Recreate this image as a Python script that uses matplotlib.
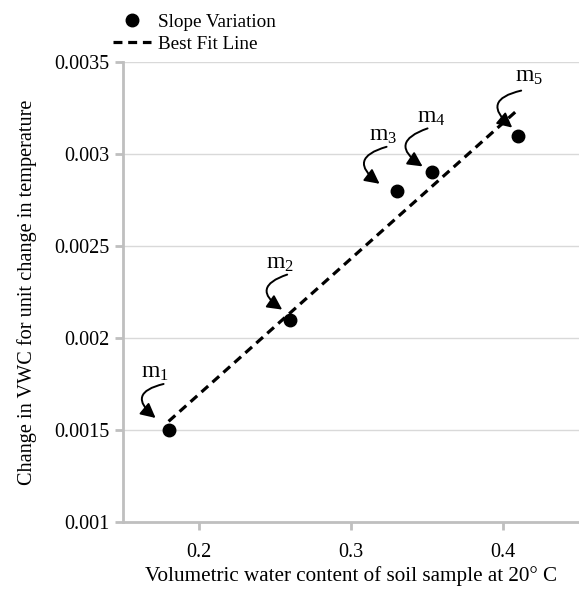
import numpy as np
import matplotlib
matplotlib.use("Agg")
import matplotlib.pyplot as plt
from matplotlib.transforms import offset_copy

# data
vwc = [0.18, 0.26, 0.33, 0.353, 0.41]
slope = [0.0015, 0.0021, 0.0028, 0.0029, 0.0031]
labels = ["1", "2", "3", "4", "5"]
x_ticks = [0.2, 0.3, 0.4]
y_ticks = [0.001, 0.0015, 0.002, 0.0025, 0.003, 0.0035]
y_tick_labels = ["0.001", "0.0015", "0.002", "0.0025", "0.003", "0.0035"]

plt.rcParams["font.family"] = ["Liberation Serif", "DejaVu Serif"]
plt.rcParams["mathtext.fontset"] = "custom"
plt.rcParams["mathtext.rm"] = "Liberation Serif"
plt.rcParams["mathtext.it"] = "Liberation Serif:italic"

fig = plt.figure(figsize=(5.79, 5.90), dpi=100)
ax = fig.add_axes([0.2124, 0.1153, 0.7876, 0.7796])

grey = "#bfbfbf"
ax.set_xlim(0.15, 0.45)
ax.set_ylim(0.001, 0.0035)
ax.set_xticks(x_ticks)
ax.set_xticklabels([str(t) for t in x_ticks])
ax.set_yticks(y_ticks)
ax.set_yticklabels(y_tick_labels)
ax.grid(axis="y", color="#d9d9d9", linewidth=1)
ax.set_axisbelow(True)
for s in ["top", "right"]:
    ax.spines[s].set_visible(False)
for s in ["left", "bottom"]:
    ax.spines[s].set_color(grey)
    ax.spines[s].set_linewidth(2)
ax.tick_params(axis="both", color=grey, width=2, length=6, labelsize=14.5)
ax.tick_params(axis="x", pad=9)
ax.tick_params(axis="y", pad=4)

# best fit line
coef = np.polyfit(vwc, slope, 1)
xf = np.array([min(vwc), max(vwc)])
ax.plot(xf, np.polyval(coef, xf), color="black", lw=2.3, linestyle=(0, (2.8, 1.8)),
        label="Best Fit Line", zorder=3)
ax.plot(vwc, slope, "o", color="black", markersize=9, label="Slope Variation",
        linestyle="none", zorder=4)

# label offset, arrow start, arrow tip (pixels, y up) relative to each point
label_off = [(-14, 57), (-10, 56), (-14, 55), (0, 55), (11, 59)]
start_off = [(-5, 46), (-3, 45), (-10, 44), (-4, 44), (3, 45)]
tip_off = [(-13, 12), (-8, 10), (-17, 7), (-9, 6), (-6, 8)]

for i in range(len(vwc)):
    px, py = vwc[i], slope[i]
    lx, ly = label_off[i]
    ax.text(px, py, r"$\mathregular{m_{%s}}$" % labels[i], fontsize=17,
            ha="center", va="center",
            transform=offset_copy(ax.transData, fig=fig, x=lx, y=ly, units="dots"))
    sx, sy = start_off[i]
    tx, ty = tip_off[i]
    ax.annotate("", xy=(px, py),
                xycoords=offset_copy(ax.transData, fig=fig, x=tx, y=ty, units="dots"),
                xytext=(px, py),
                textcoords=offset_copy(ax.transData, fig=fig, x=sx, y=sy, units="dots"),
                arrowprops=dict(arrowstyle="-|>,head_length=0.55,head_width=0.28",
                                connectionstyle="arc3,rad=1.0", color="black",
                                lw=1.4, shrinkA=0, shrinkB=0, mutation_scale=16))

ax.set_xlabel("Volumetric water content of soil sample at 20° C", fontsize=15.2, labelpad=3)
ax.set_ylabel("Change in VWC for unit change in temperature", fontsize=14.6, labelpad=12)

h, l = ax.get_legend_handles_labels()
fig.legend(h[::-1], l[::-1], loc="upper left", bbox_to_anchor=(0.172, 1.0),
           frameon=False, fontsize=13.8, handlelength=2.0, handletextpad=0.35,
           labelspacing=0.25, borderpad=0.2)

fig.savefig("out.png", dpi=100)
